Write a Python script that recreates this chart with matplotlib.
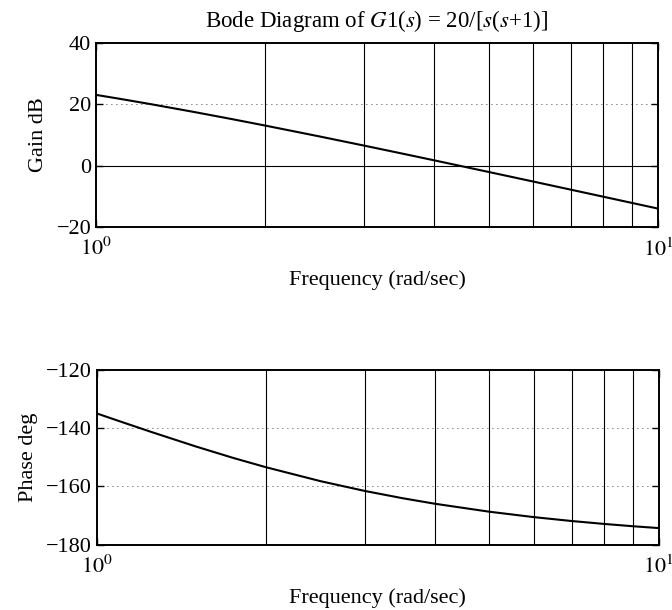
import matplotlib.pyplot as plt
from matplotlib.ticker import FixedLocator, NullLocator

plt.rcParams['font.family'] = ['Liberation Serif', 'DejaVu Serif']
plt.rcParams['mathtext.fontset'] = 'stix'
plt.rcParams['font.size'] = 16

# frequency points (rad/sec) and values
freq = [1, 1.1, 1.25, 1.5, 1.75, 2, 2.5, 3, 3.5, 4, 5, 6, 7, 8, 9, 10]
gain_db = [23.0, 21.75, 20.0, 17.38, 15.07, 13.01, 9.46, 6.48, 3.92, 1.68,
           -2.11, -5.22, -7.87, -10.17, -12.2, -14.02]
phase_deg = [-135.0, -137.73, -141.34, -146.31, -150.26, -153.43, -158.2, -161.57,
             -164.05, -165.96, -168.69, -170.54, -171.87, -172.87, -173.66, -174.29]

grid_freqs = [2, 3, 4, 5, 6, 7, 8, 9]
gain_ticks = [-20, 0, 20, 40]
phase_ticks = [-180, -160, -140, -120]


def setup(ax, yticks, ylabel):
    ax.set_xscale('log')
    ax.set_xlim(1, 10)
    ax.set_ylim(yticks[0], yticks[-1])
    ax.xaxis.set_major_locator(FixedLocator([1, 10]))
    ax.xaxis.set_minor_locator(NullLocator())
    ax.set_xticklabels([r'$10^0$', r'$10^1$'])
    ax.set_yticks(yticks)
    ax.set_yticklabels([f'{t}'.replace('-', '\u2212') for t in yticks])
    ax.tick_params(direction='in', top=True, right=True, length=5, width=1,
                   labelsize=16)
    ax.tick_params(axis='x', pad=8)
    for s in ax.spines.values():
        s.set_linewidth(1.4)
    for f in grid_freqs:
        ax.axvline(f, color='black', lw=0.8)
    ax.set_xlabel('Frequency (rad/sec)', labelpad=7, fontsize=16)
    ax.set_ylabel(ylabel, labelpad=6, fontsize=16)


fig = plt.figure(figsize=(6.72, 6.1), dpi=100)

ax1 = fig.add_axes([0.143, 0.628, 0.836, 0.302])
setup(ax1, gain_ticks, 'Gain dB')
ax1.axhline(0, color='black', lw=0.8)
ax1.axhline(20, color='black', lw=0.6, linestyle=(0, (1, 5)))
ax1.plot(freq, gain_db, color='black', lw=1.5)
ax1.set_title(r'Bode Diagram of $G$1($s$) = 20/[$s$($s$+1)]', fontsize=16.5, pad=11)

ax2 = fig.add_axes([0.144, 0.107, 0.836, 0.287])
setup(ax2, phase_ticks, 'Phase deg')
ax2.axhline(-140, color='black', lw=0.6, linestyle=(0, (1, 5)))
ax2.axhline(-160, color='black', lw=0.6, linestyle=(0, (1, 5)))
ax2.plot(freq, phase_deg, color='black', lw=1.5)

fig.savefig('out.png', dpi=100)
